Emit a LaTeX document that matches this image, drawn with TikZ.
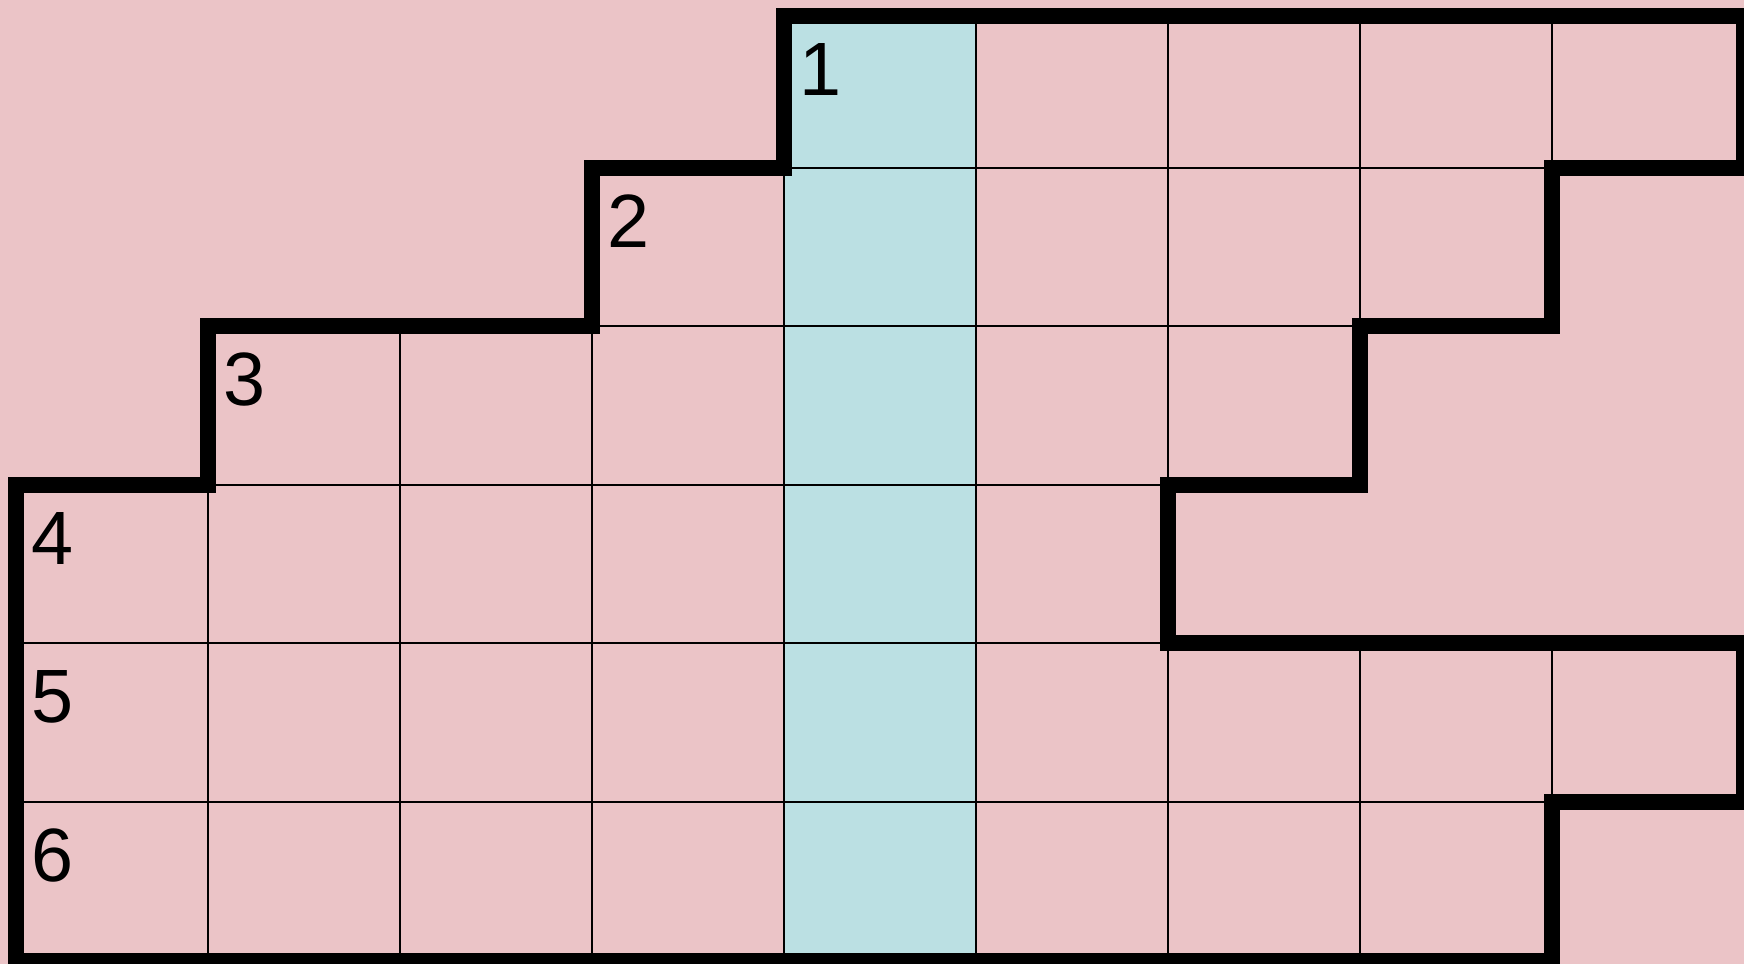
\documentclass[tikz,border=0pt]{standalone}
\usepackage{fontspec}
\setmainfont{Liberation Sans}
\definecolor{paper}{RGB}{235,196,199}
\definecolor{answer}{RGB}{187,224,227}

\begin{document}
\begin{tikzpicture}[x=0.1mm,y=-0.1mm,
  cell/.style={draw=black,line width=0.2mm},
  wall/.style={draw=black,line width=1.6mm,line join=miter},
  num/.style={anchor=base west,inner sep=0pt,font=\fontsize{21.5}{24}\selectfont}]
\fill[paper] (0,0) rectangle (1744,964);
\useasboundingbox (0,0) rectangle (1744,964);
\fill[answer] (784,16) rectangle (976,961);
\foreach \r/\top/\bot/\a/\b in {1/16/168/5/9,2/168/326/4/8,3/326/485/2/7,4/485/643/1/6,5/643/802/1/9,6/802/961/1/8}{
  \foreach \c in {\a,...,\b}
    \draw[cell] ({16+192*(\c-1)},\top) rectangle ({16+192*\c},\bot);
  \node[num] (n\r) at ({31+192*(\a-1)},{\top+80}) {\r};
}
\draw[wall] (784,16) -- (1744,16) -- (1744,168) -- (1552,168) -- (1552,326)
  -- (1360,326) -- (1360,485) -- (1168,485) -- (1168,643) -- (1744,643)
  -- (1744,802) -- (1552,802) -- (1552,961) -- (16,961) -- (16,485)
  -- (208,485) -- (208,326) -- (592,326) -- (592,168) -- (784,168) -- cycle;
\end{tikzpicture}
\end{document}
